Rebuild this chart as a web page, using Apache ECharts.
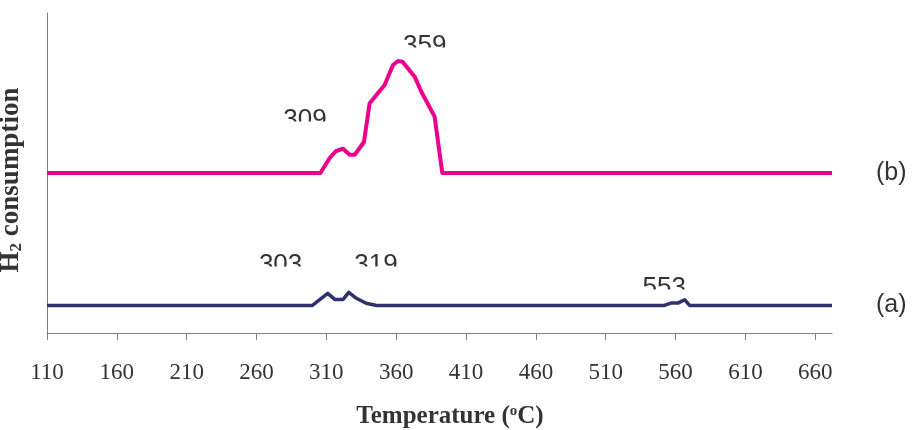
<!DOCTYPE html>
<html>
<head>
<meta charset="utf-8">
<style>
  html, body { margin: 0; padding: 0; background: #ffffff; }
  #chart { width: 912px; height: 430px; }
</style>
<script src="https://cdn.jsdelivr.net/npm/echarts@6/dist/echarts.min.js"></script>
</head>
<body>
<div id="chart"></div>
<script>
// TPR profiles: temperature (°C) and H2 consumption signal (arbitrary units)
var tempA   = [110, 300, 311, 316, 322, 326, 331.5, 338.5, 346, 552, 557, 562, 566.5, 570, 672];
var signalA = [0,   0,   3.8, 1.9, 1.9, 4.1, 2.25,  0.7,   0,   0,   0.8, 0.8, 1.8,   0,   0];

var tempB   = [110, 305.7, 312.4, 316.7, 321.9, 326.7, 330.3, 336.9, 341, 347, 351.7, 357.7, 361.3, 364.4, 368.4, 373.2, 378, 387.5, 393, 672];
var signalB = [0,   0,     4.7,   6.8,   7.6,   5.7,   5.7,   9.7,   21.8, 25, 27.5,  33.75, 35,    34.8,  32.7,  30.1,  25.4, 17.6, 0,   0];

// vertical offsets that stack the two traces
var offsetA = 8.6;
var offsetB = 50;

var xTicks = [110, 160, 210, 260, 310, 360, 410, 460, 510, 560, 610, 660];

// peak annotations
var peakLabels = [
  { text: '309', series: 'b', temp: 309 },
  { text: '359', series: 'b', temp: 359 },
  { text: '303', series: 'a', temp: 303 },
  { text: '319', series: 'a', temp: 319 },
  { text: '553', series: 'a', temp: 553 }
];
// pixel placement of each annotation relative to [temp, trace baseline]
var labelShift = [
  { dx: -20, dy: -63 },
  { dx: 30,  dy: -137 },
  { dx: -36, dy: -50.5 },
  { dx: 37,  dy: -50.5 },
  { dx: -1.5, dy: -27.5 }
];

function stack(temps, sig, off) {
  return temps.map(function (t, i) { return [t, sig[i] + off]; });
}

var chart = echarts.init(document.getElementById('chart'), null, { renderer: 'canvas' });

var axisColor = '#7f7f7f';
var textColor = '#333333';

chart.setOption({
  backgroundColor: '#ffffff',
  animation: false,
  grid: { left: 47, right: 80, top: 13, bottom: 97, outerBoundsMode: 'none', containLabel: false },
  xAxis: {
    type: 'value',
    min: 110,
    max: 672,
    interval: 50,
    splitLine: { show: false },
    axisLine: { show: true, lineStyle: { color: axisColor, width: 1 } },
    axisTick: { show: true, inside: false, length: 7, lineStyle: { color: axisColor }, customValues: xTicks },
    axisLabel: {
      customValues: xTicks,
      margin: 28,
      fontFamily: 'Liberation Serif',
      fontSize: 23,
      color: textColor
    },
    name: '{b|Temperature (}{sup|o}{b|C)}',
    nameLocation: 'middle',
    nameGap: 71,
    nameTextStyle: {
      padding: [0, 0, 0, 21],
      rich: {
        b: { fontFamily: 'Liberation Serif', fontWeight: 'bold', fontSize: 25, color: textColor },
        sup: { fontFamily: 'Liberation Serif', fontWeight: 'bold', fontSize: 15, color: textColor, verticalAlign: 'top', padding: [0, 0, 8, 0] }
      }
    }
  },
  yAxis: {
    type: 'value',
    min: 0,
    max: 100,
    splitLine: { show: false },
    axisLine: { show: true, lineStyle: { color: axisColor, width: 1 } },
    axisTick: { show: false },
    axisLabel: { show: false },
    name: '{b|H}{sub|2}{b| consumption}',
    nameLocation: 'middle',
    nameRotate: 90,
    nameGap: 22,
    nameTextStyle: {
      padding: [0, 14, 0, 0],
      rich: {
        b: { fontFamily: 'Liberation Serif', fontWeight: 'bold', fontSize: 27, color: textColor },
        sub: { fontFamily: 'Liberation Serif', fontWeight: 'bold', fontSize: 17, color: textColor, padding: [11, 0, 0, 0] }
      }
    }
  },
  series: [
    {
      name: 'b',
      type: 'line',
      data: stack(tempB, signalB, offsetB),
      symbol: 'none',
      z: 3,
      lineStyle: { color: '#ec008c', width: 4, join: 'round' },
      endLabel: { show: true, formatter: '(b)', distance: 44, fontFamily: 'Liberation Sans', fontSize: 25, color: textColor }
    },
    {
      name: 'a',
      type: 'line',
      data: stack(tempA, signalA, offsetA),
      symbol: 'none',
      z: 3,
      lineStyle: { color: '#30306a', width: 3.5, join: 'round' },
      endLabel: { show: true, formatter: '(a)', distance: 44, fontFamily: 'Liberation Sans', fontSize: 25, color: textColor }
    }
  ]
});

// peak annotations, their lower part masked by a white strip
function placeAnnotations() {
  var elements = [];
  peakLabels.forEach(function (p, i) {
    var base = p.series === 'a' ? offsetA : offsetB;
    var px = chart.convertToPixel({ gridIndex: 0 }, [p.temp, base]);
    var cx = px[0] + labelShift[i].dx;
    var top = px[1] + labelShift[i].dy;
    elements.push({
      type: 'text',
      z: 0,
      silent: true,
      style: {
        text: p.text,
        x: cx,
        y: top - 3,
        align: 'center',
        verticalAlign: 'top',
        fontFamily: 'Liberation Sans',
        fontSize: 26,
        fill: textColor
      }
    });
    elements.push({
      type: 'rect',
      z: 1,
      silent: true,
      shape: { x: cx - 28, y: top + 11.5, width: 56, height: 16 },
      style: { fill: '#ffffff' }
    });
  });
  chart.setOption({ graphic: elements });
}
placeAnnotations();
</script>
</body>
</html>
